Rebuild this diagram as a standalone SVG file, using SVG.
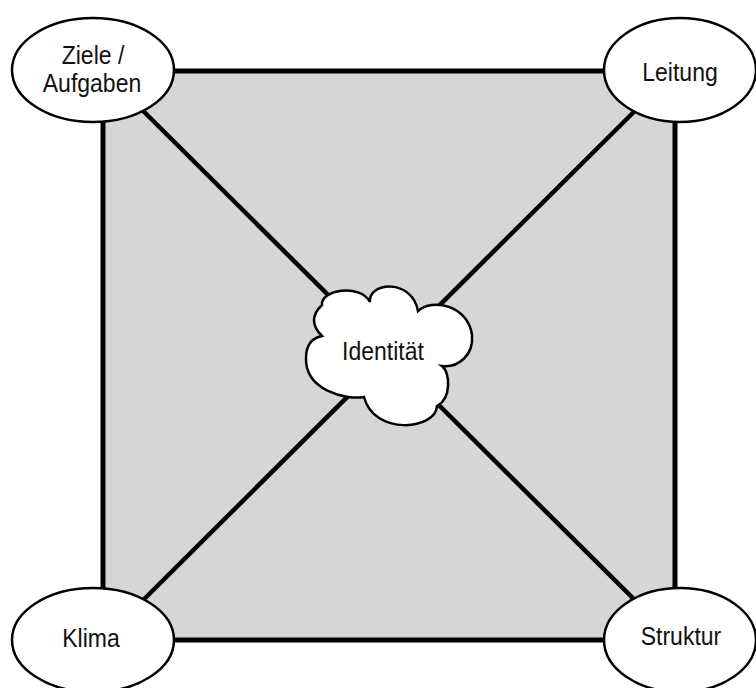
<svg xmlns="http://www.w3.org/2000/svg" width="756" height="688" viewBox="0 0 756 688">
  <style>
    .edge { stroke: #000; stroke-width: 5; fill: none; stroke-linecap: square; }
    .diag { stroke: #000; stroke-width: 4.5; fill: none; }
    .node { fill: #fff; stroke: #000; stroke-width: 2.5; }
    .lbl { font-family: "Liberation Sans", Arial, sans-serif; font-size: 25px; fill: #111; text-anchor: middle; }
  </style>
  <rect width="756" height="688" fill="#fff"/>
  <rect id="area" x="103" y="71" width="572" height="569" fill="#d6d6d6"/>
  <g id="connectors">
    <line class="edge" x1="103" y1="71" x2="675" y2="71"/>
    <line class="edge" x1="675" y1="71" x2="675" y2="640"/>
    <line class="edge" x1="675" y1="640" x2="103" y2="640"/>
    <line class="edge" x1="103" y1="640" x2="103" y2="71"/>
    <line class="diag" x1="103" y1="71" x2="675" y2="640"/>
    <line class="diag" x1="675" y1="71" x2="103" y2="640"/>
  </g>
  <g id="node-ziele">
    <ellipse class="node" cx="93" cy="70" rx="81" ry="52"/>
    <text class="lbl" transform="translate(93 64) scale(0.92 1)">Ziele /</text>
    <text class="lbl" transform="translate(92 92) scale(0.92 1)">Aufgaben</text>
  </g>
  <g id="node-leitung">
    <ellipse class="node" cx="680" cy="70" rx="76" ry="52"/>
    <text class="lbl" transform="translate(680 81) scale(0.92 1)">Leitung</text>
  </g>
  <g id="node-klima">
    <ellipse class="node" cx="93" cy="640" rx="81" ry="52"/>
    <text class="lbl" transform="translate(91 647) scale(0.92 1)">Klima</text>
  </g>
  <g id="node-struktur">
    <ellipse class="node" cx="680" cy="640" rx="76" ry="52"/>
    <text class="lbl" transform="translate(681 645) scale(0.92 1)">Struktur</text>
  </g>
  <g id="node-identitaet">
    <path class="node" d="M 322 336 Q 306 320 322 305 C 320 290 360 283 370 302 C 368 282 412 278 418 311 C 432 298 468 305 472 335 C 474 355 458 368 442 366 C 450 372 452 398 437 406 C 436 430 374 436 364 397 C 345 400 305 390 306 358 C 306 345 312 338 322 336 Z"/>
    <text class="lbl" transform="translate(383 360) scale(0.92 1)">Identität</text>
  </g>
</svg>
